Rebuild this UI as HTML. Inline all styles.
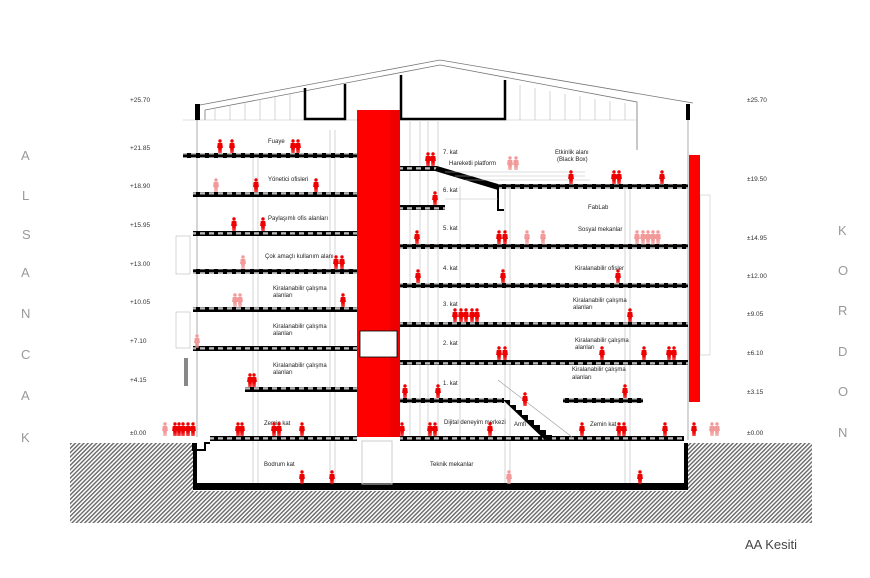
<!DOCTYPE html>
<html><head><meta charset="utf-8"><style>
html,body{margin:0;padding:0;background:#fff}
svg{display:block}
text{font-family:"Liberation Sans",sans-serif}
.lv{font-size:6.5px;fill:#333}
.lb{font-size:6px;fill:#222}
.big{font-size:13px;fill:#999;letter-spacing:0}
</style></head><body>
<svg width="870" height="578" viewBox="0 0 870 578" xmlns="http://www.w3.org/2000/svg">
<defs>
<pattern id="h" width="3" height="3" patternUnits="userSpaceOnUse" patternTransform="rotate(45)">
<rect width="3" height="3" fill="#fff"/><rect width="1.4" height="3" fill="#666"/></pattern>
<pattern id="sl" width="9" height="5" patternUnits="userSpaceOnUse">
<rect width="9" height="5" fill="#000"/><rect x="2" y="2.2" width="5" height="2.3" fill="#bbb"/></pattern>
<g id="p"><circle cx="0" cy="-12" r="1.7"/><path d="M-2.3,-10 h4.6 l0.6,5 h-1 l-0.4,5 h-1.2 l-0.3,-4 l-0.3,4 h-1.2 l-0.4,-5 h-1z"/></g>
</defs>
<!-- ground -->
<rect x="70" y="443" width="742" height="80" fill="url(#h)"/>
<rect x="193" y="443" width="495" height="48" fill="#fff"/>
<rect x="193" y="483" width="495" height="7" fill="#000"/>
<rect x="193" y="443" width="4" height="45" fill="#000"/>
<rect x="684" y="443" width="4" height="45" fill="#000"/>
<!-- roof -->
<g fill="none" stroke="#777" stroke-width="0.8">
<path d="M200,105 L440,60 L693,103"/><path d="M205,110 L440,65 L637,102 L637,150"/>
<path d="M205,110 V120"/>
</g>
<g stroke="#bbb" stroke-width="0.6">
<line x1="215" y1="108" x2="215" y2="120"/><line x1="230" y1="105" x2="230" y2="120"/><line x1="245" y1="102" x2="245" y2="120"/><line x1="260" y1="99" x2="260" y2="120"/><line x1="275" y1="96" x2="275" y2="120"/><line x1="290" y1="93" x2="290" y2="120"/>
<line x1="520" y1="85" x2="520" y2="120"/><line x1="535" y1="88" x2="535" y2="120"/><line x1="550" y1="91" x2="550" y2="120"/><line x1="565" y1="94" x2="565" y2="120"/><line x1="580" y1="96" x2="580" y2="120"/><line x1="595" y1="99" x2="595" y2="120"/><line x1="610" y1="101" x2="610" y2="120"/><line x1="625" y1="103" x2="625" y2="120"/>
<line x1="183" y1="120" x2="637" y2="120"/>
</g>
<g fill="none" stroke="#000" stroke-width="2.5">
<path d="M305,88 V119 H345 V84"/><path d="M401,75 V119 H505 V80"/>
</g>
<rect x="195" y="104" width="5" height="16" fill="#000"/>
<rect x="686" y="104" width="4" height="16" fill="#000"/>
<line x1="688" y1="120" x2="688" y2="440" stroke="#888" stroke-width="0.7"/>
<line x1="197" y1="120" x2="197" y2="437" stroke="#888" stroke-width="0.7"/>
<!-- columns -->
<g stroke="#ccc" stroke-width="0.8">
<line x1="253" y1="155" x2="253" y2="483"/><line x1="258" y1="155" x2="258" y2="483"/>
<line x1="330" y1="130" x2="330" y2="483"/><line x1="335" y1="130" x2="335" y2="483"/>
<line x1="505" y1="186" x2="505" y2="483"/><line x1="510" y1="186" x2="510" y2="483"/>
<line x1="625" y1="186" x2="625" y2="483"/><line x1="630" y1="186" x2="630" y2="483"/>
<line x1="410" y1="120" x2="410" y2="437"/><line x1="420" y1="120" x2="420" y2="437"/>
<line x1="428" y1="120" x2="428" y2="437"/><line x1="438" y1="120" x2="438" y2="437"/>
<line x1="460" y1="186" x2="460" y2="437"/>
</g>
<!-- left slabs -->
<g fill="url(#sl)">
<rect x="183" y="153" width="174" height="5"/><rect x="193" y="192" width="164" height="5"/>
<rect x="193" y="231" width="164" height="5"/><rect x="193" y="269" width="164" height="5"/>
<rect x="193" y="307" width="164" height="5"/><rect x="193" y="346" width="164" height="5"/>
<rect x="245" y="387" width="112" height="5"/><rect x="210" y="436" width="147" height="5"/>
<!-- right slabs -->
<rect x="400" y="166" width="37" height="5"/><rect x="498" y="184" width="190" height="5"/>
<rect x="400" y="205" width="45" height="5"/>
<rect x="400" y="244" width="288" height="5"/><rect x="400" y="283" width="288" height="5"/>
<rect x="400" y="322" width="288" height="5"/><rect x="400" y="360" width="288" height="5"/>
<rect x="400" y="398" width="104" height="5"/><rect x="563" y="398" width="80" height="5"/>
<rect x="400" y="436" width="284" height="5"/>
</g>
<path d="M437,166 L498,184 L498,190 L435,171z" fill="#000"/>
<path d="M498,186 V210 H504" fill="none" stroke="#000" stroke-width="2"/>
<g stroke="#bbb" stroke-width="0.6">
<line x1="445" y1="172" x2="585" y2="172"/><line x1="455" y1="176" x2="585" y2="176"/><line x1="465" y1="180" x2="590" y2="180"/>
<line x1="445" y1="199" x2="498" y2="199"/>
</g>
<!-- stair Amfi -->
<path d="M503,400 L510,400 L510,405 L516,405 L516,410 L522,410 L522,415 L528,415 L528,420 L534,420 L534,425 L540,425 L540,430 L546,430 L546,435 L552,435 L552,441 L546,441 Z" fill="#000"/>
<line x1="498" y1="380" x2="572" y2="437" stroke="#999" stroke-width="0.6"/>
<!-- side stair hatch left -->
<rect x="176" y="236" width="14" height="38" fill="none" stroke="#aaa" stroke-width="0.5"/>
<rect x="176" y="312" width="14" height="36" fill="none" stroke="#aaa" stroke-width="0.5"/>
<rect x="184" y="358" width="4" height="28" fill="#888"/>
<rect x="700" y="195" width="10" height="160" fill="none" stroke="#bbb" stroke-width="0.5"/>
<!-- red cores -->
<rect x="357" y="110" width="43" height="327" fill="#f00"/>
<rect x="390" y="110" width="10" height="327" fill="#e00"/>
<rect x="360" y="331" width="37" height="26" fill="#fff" stroke="#000" stroke-width="0.8"/>
<rect x="362" y="441" width="30" height="43" fill="none" stroke="#ccc"/>
<rect x="689" y="155" width="11" height="247" fill="#f00"/>
<!-- basement step -->
<path d="M193,443 V450 H205 V443 H210" fill="none" stroke="#000" stroke-width="2"/>
<!-- level labels -->
<g class="lv">
<text x="130" y="102">+25.70</text><text x="130" y="150">+21.85</text><text x="130" y="188">+18.90</text><text x="130" y="227">+15.95</text><text x="130" y="266">+13.00</text><text x="130" y="304">+10.05</text><text x="130" y="343">+7.10</text><text x="130" y="382">+4.15</text><text x="130" y="435">±0.00</text>
<text x="747" y="102">±25.70</text><text x="747" y="181">±19.50</text><text x="747" y="240">±14.95</text><text x="747" y="278">±12.00</text><text x="747" y="316">±9.05</text><text x="747" y="355">±6.10</text><text x="747" y="394">±3.15</text><text x="747" y="435">±0.00</text>
</g>
<g class="big">
<text x="21" y="160">A</text><text x="22" y="200">L</text><text x="22" y="239">S</text><text x="21" y="277">A</text><text x="21" y="318">N</text><text x="21" y="359">C</text><text x="21" y="400">A</text><text x="21" y="442">K</text>
<text x="838" y="235">K</text><text x="838" y="275">O</text><text x="838" y="315">R</text><text x="838" y="356">D</text><text x="838" y="396">O</text><text x="838" y="437">N</text>
</g>
<text x="745" y="549" style="font-size:13px;fill:#444">AA Kesiti</text>
<!-- room labels -->
<g class="lb">
<text x="268" y="143">Fuaye</text><text x="268" y="181">Yönetici ofisleri</text><text x="268" y="220">Paylaşımlı ofis alanları</text><text x="265" y="258">Çok amaçlı kullanım alanı</text>
<text x="273" y="290">Kiralanabilir  çalışma</text><text x="273" y="297">alanları</text>
<text x="273" y="328">Kiralanabilir  çalışma</text><text x="273" y="335">alanları</text>
<text x="273" y="367">Kiralanabilir  çalışma</text><text x="273" y="374">alanları</text>
<text x="264" y="425">Zemin kat</text><text x="264" y="466">Bodrum kat</text>
<text x="443" y="154">7. kat</text><text x="449" y="165">Hareketli platform</text><text x="555" y="154">Etkinlik alanı</text><text x="557" y="161">(Black Box)</text>
<text x="443" y="192">6. kat</text><text x="588" y="209">FabLab</text><text x="443" y="230">5. kat</text><text x="578" y="231">Sosyal mekanlar</text>
<text x="443" y="270">4. kat</text><text x="575" y="270">Kiralanabilir ofisler</text>
<text x="443" y="306">3. kat</text><text x="573" y="302">Kiralanabilir  çalışma</text><text x="573" y="309">alanları</text>
<text x="443" y="345">2. kat</text><text x="575" y="342">Kiralanabilir  çalışma</text><text x="575" y="349">alanları</text>
<text x="443" y="385">1. kat</text><text x="572" y="371">Kiralanabilir  çalışma</text><text x="572" y="379">alanları</text>
<text x="444" y="424">Dijital deneyim merkezi</text><text x="514" y="426">Amfi</text><text x="590" y="426">Zemin kat</text>
<text x="430" y="466">Teknik mekanlar</text>
</g>
<!-- people -->
<g fill="#e00">
<use href="#p" x="220" y="153"/><use href="#p" x="232" y="153"/><use href="#p" x="293" y="153"/><use href="#p" x="298" y="153"/>
<use href="#p" x="256" y="192"/><use href="#p" x="316" y="192"/>
<use href="#p" x="234" y="231"/><use href="#p" x="263" y="231"/>
<use href="#p" x="336" y="269"/><use href="#p" x="342" y="269"/><use href="#p" x="343" y="307"/>
<use href="#p" x="250" y="387"/><use href="#p" x="254" y="387"/>
<use href="#p" x="183" y="436"/><use href="#p" x="188" y="436"/><use href="#p" x="193" y="436"/><use href="#p" x="175" y="436"/><use href="#p" x="179" y="436"/>
<use href="#p" x="238" y="436"/><use href="#p" x="242" y="436"/><use href="#p" x="274" y="436"/><use href="#p" x="279" y="436"/><use href="#p" x="302" y="436"/>
<use href="#p" x="302" y="484"/><use href="#p" x="332" y="484"/><use href="#p" x="640" y="484"/>
<use href="#p" x="428" y="166"/><use href="#p" x="433" y="166"/><use href="#p" x="571" y="184"/><use href="#p" x="614" y="184"/><use href="#p" x="619" y="184"/><use href="#p" x="662" y="184"/>
<use href="#p" x="435" y="205"/><use href="#p" x="417" y="244"/><use href="#p" x="499" y="244"/><use href="#p" x="505" y="244"/>
<use href="#p" x="418" y="283"/><use href="#p" x="503" y="283"/><use href="#p" x="618" y="283"/>
<use href="#p" x="455" y="322"/><use href="#p" x="461" y="322"/><use href="#p" x="466" y="322"/><use href="#p" x="472" y="322"/><use href="#p" x="477" y="322"/><use href="#p" x="630" y="322"/>
<use href="#p" x="499" y="360"/><use href="#p" x="505" y="360"/><use href="#p" x="602" y="360"/><use href="#p" x="644" y="360"/><use href="#p" x="669" y="360"/><use href="#p" x="674" y="360"/>
<use href="#p" x="405" y="398"/><use href="#p" x="438" y="398"/><use href="#p" x="625" y="398"/><use href="#p" x="525" y="406"/>
<use href="#p" x="402" y="436"/><use href="#p" x="430" y="436"/><use href="#p" x="435" y="436"/><use href="#p" x="490" y="436"/><use href="#p" x="582" y="436"/><use href="#p" x="619" y="436"/><use href="#p" x="624" y="436"/><use href="#p" x="665" y="436"/><use href="#p" x="694" y="436"/>
</g>
<g fill="#f29a9a">
<use href="#p" x="216" y="192"/><use href="#p" x="243" y="269"/><use href="#p" x="235" y="307"/><use href="#p" x="240" y="307"/><use href="#p" x="197" y="348"/>
<use href="#p" x="165" y="436"/><use href="#p" x="510" y="170"/><use href="#p" x="516" y="170"/><use href="#p" x="527" y="244"/><use href="#p" x="543" y="244"/>
<use href="#p" x="637" y="244"/><use href="#p" x="643" y="244"/><use href="#p" x="648" y="244"/><use href="#p" x="653" y="244"/><use href="#p" x="658" y="244"/>
<use href="#p" x="509" y="484"/><use href="#p" x="712" y="436"/><use href="#p" x="717" y="436"/>
</g>
</svg>
</body></html>
